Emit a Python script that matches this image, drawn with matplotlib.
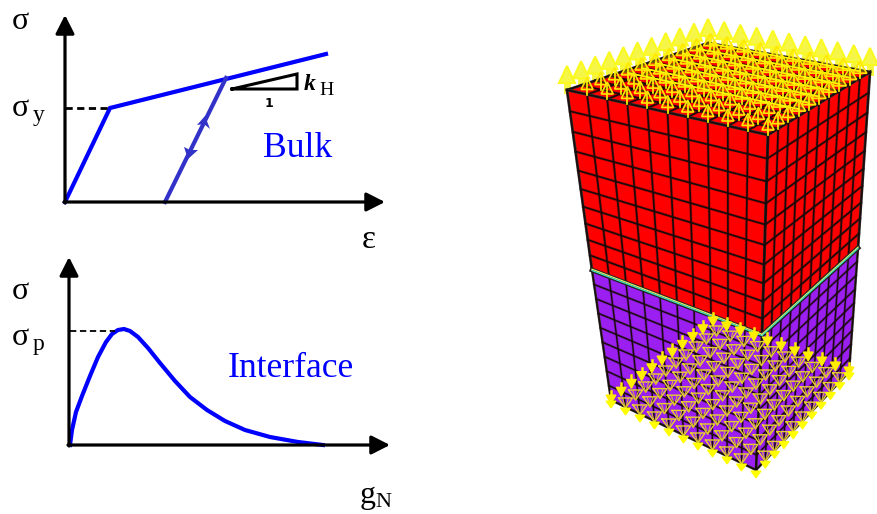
import numpy as np
import matplotlib
matplotlib.use("Agg")
import matplotlib.pyplot as plt
from matplotlib.patches import Polygon

# ---- values (pixel frame of the panel) ----
bulk_x = [65, 110, 326]
bulk_y = [202, 108, 54]
unload_x = [165, 226]
unload_y = [202, 78]
yield_x = [65, 110]
yield_y = [108, 108]
slope_x = [232, 297, 297, 232]
slope_y = [89, 74, 89, 89]
iface_x = [70, 72, 76, 82, 90, 98, 106, 112, 118, 124, 130, 138, 148, 160, 175, 190, 207, 225, 245, 270, 298, 323]
iface_y = [445, 430, 412, 396, 376, 357, 342, 334, 330, 329, 331, 337, 348, 363, 381, 397, 410, 421, 430, 437, 442, 445]
peak_x = [70, 115]
peak_y = [331, 331]

top_corners = [(567, 90), (768, 135), (870, 72), (708, 43)]   # left, front, right, back
mid_corners = [(592, 270), (762, 335), (858, 248)]            # left, front, right
low_corners = [(611, 400), (756, 470), (849, 372), (713, 322)]  # left, front, right, back
n_cols = 10
n_rows_red = 10
n_rows_purple = 9

RED = "#ff0000"
PURPLE = "#9a1ff0"
YELLOW = "#ffff00"
BLUE = "#0000ff"
BLUE2 = "#3232c8"

plt.rcParams["font.family"] = ["Liberation Serif", "DejaVu Sans"]
fig = plt.figure(figsize=(8.77, 5.14), dpi=100)
ax = fig.add_axes([0, 0, 1, 1])
ax.set_xlim(0, 877)
ax.set_ylim(514, 0)
ax.axis("off")


def arrow_axis(x0, y0, x1, y1):
    ax.annotate("", xy=(x1, y1), xytext=(x0, y0),
                arrowprops=dict(arrowstyle="-|>,head_length=0.75,head_width=0.38", lw=2.3,
                                color="black", shrinkA=0, shrinkB=0,
                                mutation_scale=15))


arrow_axis(65, 203, 65, 15)
arrow_axis(64, 202, 385, 202)
arrow_axis(69, 446, 69, 257)
arrow_axis(68, 445, 390, 445)

ax.plot(bulk_x, bulk_y, color=BLUE, lw=3.0, solid_joinstyle="miter")
ax.plot(unload_x, unload_y, color=BLUE2, lw=3.0)
ax.plot(yield_x, yield_y, color="black", lw=2.0, ls=(0, (2.6, 1.6)))
ax.plot(slope_x, slope_y, color="black", lw=2.2, solid_joinstyle="miter")
ax.plot(iface_x, iface_y, color=BLUE, lw=3.0)
ax.plot(peak_x, peak_y, color="black", lw=1.3, ls=(0, (3.5, 2)))

# direction marks on the unloading line
ax.add_patch(Polygon([(205, 116), (197, 125), (204, 124), (210, 129)], closed=True, color=BLUE2, lw=0))
ax.add_patch(Polygon([(188, 159), (184, 147), (190, 150), (198, 150)], closed=True, color=BLUE2, lw=0))


def txt(x, y, s, size, color="black", **kw):
    ax.text(x, y, s, fontsize=size, color=color, va="baseline", ha="left", **kw)


txt(12, 29, "σ", 23)
txt(12, 116, "σ", 23)
txt(33, 121, "y", 17)
txt(362, 248, "ε", 24)
txt(263, 157, "Bulk", 25.7, BLUE)
txt(304, 90, "k", 17, fontweight="bold", fontstyle="italic")
txt(319, 95, "H", 14)
txt(265, 107, "1", 9, fontweight="bold", family="DejaVu Sans")
txt(12, 299, "σ", 23)
txt(12, 345, "σ", 23)
txt(33, 350, "p", 17)
txt(228, 377, "Interface", 25.7, BLUE)
txt(360, 503, "g", 23)
txt(375, 507, "N", 16)


def bilinear(a, b, c, d, nu, nv, warp=False):
    """Nodes of a quad a-b (v=0) / d-c (v=1)."""
    a, b, c, d = map(np.asarray, (a, b, c, d))
    t = np.linspace(0, 1, nv + 1)
    if warp:
        t = t * (1.2 - 0.2 * t)
    u = np.linspace(0, 1, nu + 1)[:, None, None]
    v = t[None, :, None]
    return (1 - u) * (1 - v) * a + u * (1 - v) * b + u * v * c + (1 - u) * v * d


def face(a, b, c, d, nu, nv, color, z=3, lw=1.2, warp=False):
    ax.add_patch(Polygon([a, b, c, d], closed=True, fc=color, ec="#444444", lw=lw + 0.7, zorder=z))
    g = bilinear(a, b, c, d, nu, nv, warp)
    for w, al in ((lw + 0.9, 0.25), (lw, 1.0)):
        for i in range(nu + 1):
            ax.plot(g[i, :, 0], g[i, :, 1], color="#1a0a0a", lw=w, alpha=al, zorder=z + 0.1)
        for j in range(nv + 1):
            ax.plot(g[:, j, 0], g[:, j, 1], color="#1a0a0a", lw=w, alpha=al, zorder=z + 0.1)


tl, tf, tr, tb = top_corners
ml, mf, mr = mid_corners
ll, lf, lr, lb = low_corners

top_grid = bilinear(tl, tf, tr, tb, n_cols, n_cols)

# mesh faces
face(tl, tf, tr, tb, n_cols, n_cols, RED, z=2)
face(tl, tf, mf, ml, n_cols, n_rows_red, RED, z=3, warp=True)
face(tf, tr, mr, mf, n_cols, n_rows_red, RED, z=3, warp=True)
face(ml, mf, lf, ll, n_cols, n_rows_purple, PURPLE, z=3, lw=1.0)
face(mf, mr, lr, lf, n_cols, n_rows_purple, PURPLE, z=3, lw=1.0)

# interface strip
for a, b in ((ml, mf), (mf, mr)):
    ax.plot([a[0], b[0]], [a[1], b[1]], color="#222222", lw=3.4, zorder=5)
    ax.plot([a[0], b[0]], [a[1] - 0.8, b[1] - 0.8], color="#e8e860", lw=0.9, zorder=5.1)
    ax.plot([a[0], b[0]], [a[1] + 0.5, b[1] + 0.5], color="#40e8c0", lw=0.9, zorder=5.1)

# top load arrows: far rows are pale and solid, inner rows are outlined
for i in range(n_cols + 1):
    for j in range(n_cols, -1, -1):
        x, y = top_grid[i, j]
        if j == n_cols or i == 0:
            ax.plot([x, x], [y - 10, y], color="#f6f640", lw=5, zorder=1.5)
            ax.add_patch(Polygon([(x, y - 24), (x - 8, y - 7), (x + 8, y - 7)], closed=True,
                                 fc="#f6f648", ec="#fafa20", lw=1.5, zorder=1.5))
        else:
            dense = j >= 3
            w = 7 if dense else 6
            ax.plot([x, x], [y - 14, y], color=YELLOW, lw=1.2, zorder=6)
            ax.add_patch(Polygon([(x, y - 17), (x - w, y - 5), (x + w, y - 5)], closed=True,
                                 fc=(1, 0.9, 0, 0.35 if dense else 0.15),
                                 ec="#ffe800", lw=1.2, zorder=6))
            if dense and i < n_cols:
                nx, ny = top_grid[i + 1, j]
                ax.plot([x, nx], [y - 7, ny - 7], color=YELLOW, lw=1.3, zorder=6)

# bottom supports
low_grid = bilinear(ll, lf, lr, lb, n_cols, n_cols)
for i in range(n_cols + 1):
    for j in range(n_cols + 1):
        x, y = low_grid[i, j]
        edge = i == 0 or j == 0 or i == n_cols or j == n_cols
        if j == n_cols or i == 0:
            ax.plot([x, x], [y - 9, y], color="#ffee00", lw=1.8, zorder=7)
            ax.add_patch(Polygon([(x - 5, y - 5), (x + 5, y - 5), (x, y + 4)], closed=True,
                                 fc="#ffee00", ec="#ffee00", lw=0.8, zorder=7))
        if j == 0 or i == n_cols:
            ax.add_patch(Polygon([(x - 5, y + 1), (x + 5, y + 1), (x, y + 8)], closed=True,
                                 fc=YELLOW, ec=YELLOW, lw=0.8, zorder=7))
        if not edge or (j == 0 and 0 < i < n_cols) or (i == n_cols and 0 < j < n_cols):
            pts = [(x - 7, y - 9), (x + 7, y - 9), (x, y + 1), (x - 7, y - 9)]
            ax.plot(*zip(*pts), color="#e8d030", lw=1.0, zorder=6)
            ax.plot([x - 3, x], [y - 9, y + 1], color="#d8c030", lw=0.7, zorder=6)
            ax.plot([x + 3, x], [y - 9, y + 1], color="#d8c030", lw=0.7, zorder=6)

fig.savefig("out.png", dpi=100)
